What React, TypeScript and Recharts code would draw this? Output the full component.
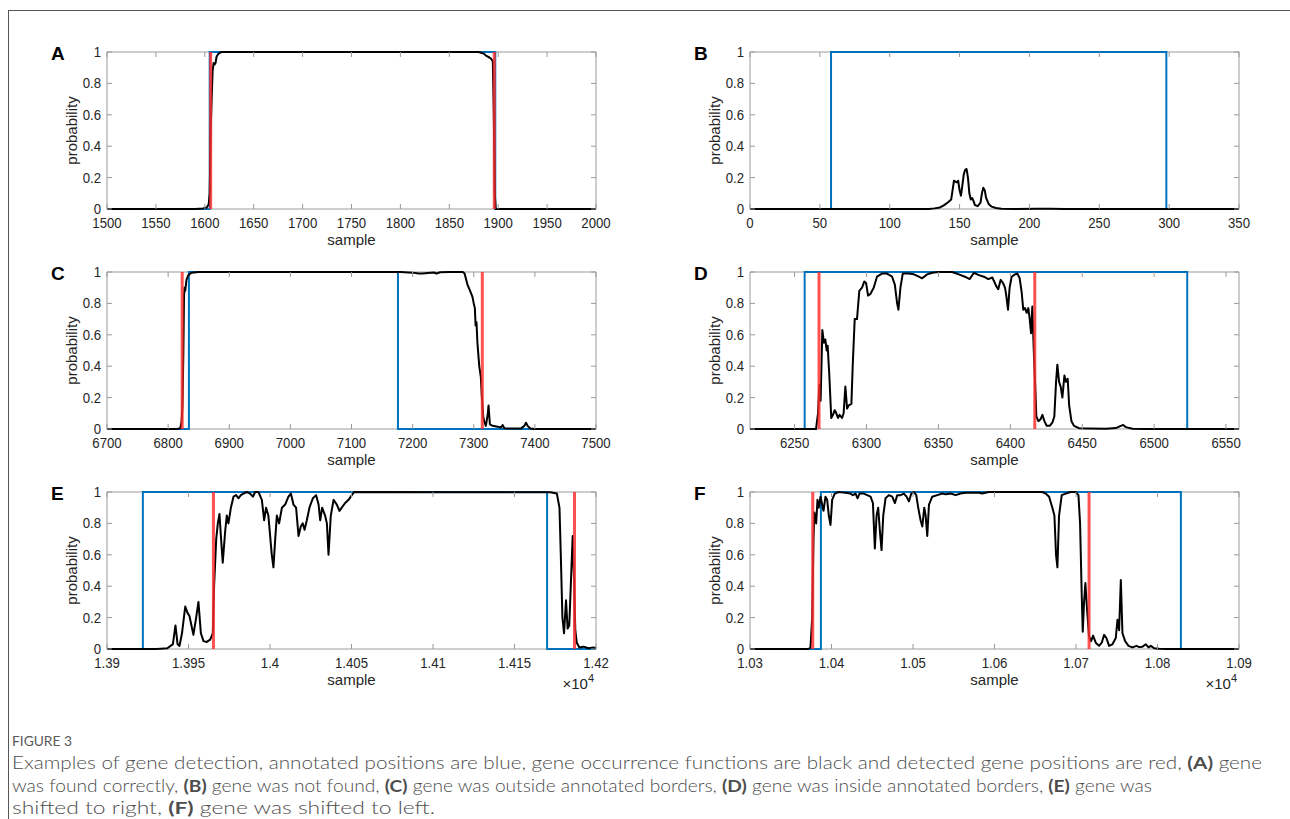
import React from 'react';
import { LineChart, Line, XAxis, YAxis, ReferenceArea } from 'recharts';

type Pt = [number, number];

// ---------- data ----------
const yTicks = [0, 0.2, 0.4, 0.6, 0.8, 1];

// Panel A
const domainA: [number, number] = [1500, 2000];
const ticksA = [1500, 1550, 1600, 1650, 1700, 1750, 1800, 1850, 1900, 1950, 2000];
const annotatedA = [1605, 1897];
const detectedA = [1606, 1896];
const occurrenceA: Pt[] = [
  [1500, 0], [1590, 0], [1598, 0.003], [1602, 0.01], [1604, 0.03], [1605, 0.1], [1606, 0.5], [1607, 0.7],
  [1608, 0.88], [1609, 0.93], [1610, 0.92], [1611, 0.93], [1612, 0.97], [1614, 0.99], [1617, 1], [1880, 1],
  [1885, 0.99], [1888, 0.975], [1891, 0.965], [1893, 0.955], [1894.5, 0.94], [1895.5, 0.6], [1896.5, 0.1],
  [1897.5, 0], [2000, 0],
];

// Panel B
const domainB: [number, number] = [0, 350];
const ticksB = [0, 50, 100, 150, 200, 250, 300, 350];
const annotatedB = [58, 298];
const detectedB: number[] = [];
const occurrenceB: Pt[] = [
  [0, 0], [128, 0], [132, 0.004], [136, 0.01], [139, 0.025], [142, 0.045], [144, 0.06], [145, 0.12],
  [146, 0.18], [147, 0.175], [148, 0.17], [149, 0.18], [150, 0.12], [151, 0.085], [152, 0.15], [153, 0.22],
  [154, 0.25], [155, 0.255], [156, 0.2], [157, 0.1], [158, 0.06], [159, 0.07], [160, 0.05], [161, 0.025],
  [163, 0.018], [165, 0.04], [166, 0.1], [167, 0.135], [168, 0.12], [169, 0.07], [171, 0.03], [173, 0.015],
  [176, 0.006], [180, 0.002], [190, 0], [205, 0.002], [215, 0.002], [225, 0], [350, 0],
];

// Panel C
const domainC: [number, number] = [6700, 7500];
const ticksC = [6700, 6800, 6900, 7000, 7100, 7200, 7300, 7400, 7500];
const annotatedC = [6834, 7176];
const detectedC = [6823, 7314];
const occurrenceC: Pt[] = [
  [6700, 0], [6815, 0], [6820, 0.005], [6822, 0.05], [6823.5, 0.15], [6825, 0.5], [6826, 0.85], [6827, 0.9],
  [6828, 0.88], [6830, 0.95], [6833, 0.98], [6838, 0.995], [6850, 1], [7180, 1], [7200, 0.996], [7210, 0.99],
  [7216, 0.99], [7225, 0.994], [7235, 0.997], [7239, 0.99], [7245, 0.998], [7260, 1], [7282, 1], [7285, 0.99],
  [7289.7, 0.92], [7294, 0.88], [7296, 0.86], [7298, 0.84], [7300, 0.8], [7301.8, 0.77], [7303, 0.66],
  [7304.5, 0.68], [7306, 0.55], [7309, 0.4], [7311.6, 0.33], [7313.3, 0.2], [7315.5, 0.08], [7317, 0.05],
  [7319.8, 0.02], [7321.5, 0.06], [7323, 0.1], [7324.2, 0.15], [7326.4, 0.03], [7330.8, 0.02], [7339, 0.015],
  [7344.5, 0.01], [7347.2, 0.025], [7350, 0.005], [7361, 0.003], [7377, 0.003], [7382.8, 0.02], [7385.5, 0.04],
  [7388.2, 0.02], [7392.6, 0.003], [7399, 0], [7500, 0],
];

// Panel D
const domainD: [number, number] = [6219, 6559];
const ticksD = [6250, 6300, 6350, 6400, 6450, 6500, 6550];
const annotatedD = [6257, 6523];
const detectedD = [6267, 6417];
const occurrenceD: Pt[] = [
  [6219, 0], [6264.9, 0], [6266.3, 0.1], [6267.2, 0.28], [6268.1, 0.18], [6269.3, 0.63], [6270.4, 0.55],
  [6271.4, 0.57], [6272.3, 0.5], [6273, 0.53], [6274.1, 0.35], [6275.5, 0.07], [6276.7, 0.09], [6277.9, 0.12],
  [6279, 0.1], [6280.2, 0.07], [6281.3, 0.09], [6283, 0.07], [6284.1, 0.1], [6285.3, 0.27], [6286.5, 0.13],
  [6287.6, 0.15], [6289.5, 0.16], [6290.4, 0.4], [6291.8, 0.7], [6293.4, 0.7], [6295, 0.88], [6296.9, 0.9],
  [6298.5, 0.94], [6299.7, 0.93], [6301.1, 0.85], [6302.7, 0.86], [6305, 0.9], [6307.3, 0.97], [6310.8, 0.99],
  [6314.3, 0.99], [6317.8, 0.97], [6319.7, 0.92], [6321.3, 0.8], [6322.2, 0.76], [6323.6, 0.9], [6325.2, 0.99],
  [6329.4, 0.99], [6332.9, 0.985], [6336.4, 0.97], [6338.7, 0.96], [6342.2, 0.985], [6345.7, 0.995],
  [6350.3, 1], [6359.6, 1], [6364.2, 0.985], [6368.4, 0.97], [6371.7, 0.955], [6374.7, 0.995], [6378.2, 0.98],
  [6381.6, 0.97], [6384.7, 0.955], [6387.5, 0.965], [6390.2, 0.91], [6391.6, 0.89], [6393.3, 0.95],
  [6394.9, 0.93], [6396.3, 0.9], [6397.2, 0.85], [6398.4, 0.76], [6399.5, 0.9], [6400.9, 0.97], [6403.2, 0.985],
  [6404.9, 0.99], [6406.5, 0.96], [6407.9, 0.87], [6409, 0.76], [6410.2, 0.77], [6411.4, 0.74], [6412.5, 0.77],
  [6413.5, 0.7], [6414.4, 0.61], [6415.3, 0.78], [6416.3, 0.5], [6417.2, 0.3], [6418.1, 0.08], [6419.5, 0.05],
  [6420.9, 0.06], [6422.3, 0.09], [6423.7, 0.05], [6425.3, 0.02], [6427.4, 0.02], [6429.2, 0.04], [6430.6, 0.08],
  [6431.8, 0.3], [6432.7, 0.41], [6433.9, 0.3], [6435, 0.27], [6436.2, 0.2], [6437.6, 0.34], [6438.8, 0.3],
  [6439.9, 0.32], [6440.9, 0.15], [6442.5, 0.05], [6444.3, 0.02], [6447.8, 0.005], [6454.8, 0.003],
  [6466.4, 0.002], [6473.4, 0.006], [6476.8, 0.02], [6478.5, 0.025], [6480.3, 0.012], [6485, 0.002],
  [6494, 0], [6559, 0],
];

// Panel E
const domainE: [number, number] = [13900, 14200];
const ticksE = [13900, 13950, 14000, 14050, 14100, 14150, 14200];
const annotatedE = [13922, 14170];
const detectedE = [13965.3, 14186.8];
const occurrenceE: Pt[] = [
  [13900, 0], [13930, 0], [13933, 0.002], [13937, 0.005], [13939, 0.02], [13940.4, 0.03], [13942, 0.15],
  [13943.3, 0.03], [13944.5, 0.02], [13946, 0.1], [13948, 0.27], [13949.4, 0.23], [13950.6, 0.21], [13952, 0.14],
  [13953, 0.09], [13954.7, 0.2], [13956.1, 0.3], [13957.6, 0.1], [13959.2, 0.05], [13961.2, 0.045],
  [13963.3, 0.06], [13964.9, 0.1], [13965.7, 0.4], [13967, 0.7], [13968, 0.8], [13969, 0.86], [13970, 0.7],
  [13971, 0.55], [13972.5, 0.75], [13973.5, 0.85], [13974.5, 0.8], [13976, 0.9], [13977.6, 0.97],
  [13979.2, 0.98], [13980.7, 0.96], [13982.1, 0.98], [13983.7, 0.99], [13985.8, 1], [13987.8, 0.99],
  [13989.5, 0.97], [13990.9, 1], [13992.9, 1], [13995, 0.95], [13996.4, 0.82], [13997.6, 0.9], [13999, 0.85],
  [14001.1, 0.6], [14002.1, 0.52], [14003.2, 0.7], [14004.2, 0.85], [14005.6, 0.8], [14007.3, 0.9],
  [14009.3, 0.92], [14011.3, 0.97], [14012.8, 0.99], [14014.4, 0.92], [14016, 0.9], [14017.5, 0.72],
  [14018.9, 0.78], [14020.1, 0.8], [14021.2, 0.76], [14022.6, 0.82], [14024.2, 0.9], [14026.3, 0.96],
  [14028.3, 0.98], [14029.8, 0.92], [14030.8, 0.82], [14032, 0.9], [14033.8, 0.85], [14034.9, 0.8],
  [14035.9, 0.6], [14037.3, 0.85], [14039, 0.95], [14041, 0.92], [14042.6, 0.88], [14044, 0.9],
  [14046.1, 0.93], [14048.2, 0.95], [14050.2, 0.98], [14051.6, 1], [14172, 0.998], [14176, 0.99],
  [14177.6, 0.9], [14178.4, 0.6], [14179.4, 0.2], [14180.4, 0.1], [14181.6, 0.31], [14182.6, 0.13],
  [14183.6, 0.15], [14184.7, 0.45], [14185.7, 0.72], [14186.5, 0.45], [14187.3, 0.12], [14188.2, 0.04],
  [14189.8, 0.01], [14192.3, 0.015], [14195.4, 0.005], [14198.5, 0.01], [14200, 0.002],
];

// Panel F
const domainF: [number, number] = [10300, 10900];
const ticksF = [10300, 10400, 10500, 10600, 10700, 10800, 10900];
const annotatedF = [10387, 10828.7];
const detectedF = [10377, 10716];
const occurrenceF: Pt[] = [
  [10300, 0], [10370, 0], [10372.2, 0.002], [10374.2, 0.01], [10376.3, 0.2], [10377.9, 0.7], [10379, 0.87],
  [10381.2, 0.8], [10382.8, 0.95], [10384.4, 0.9], [10386.5, 0.97], [10388.5, 0.92], [10390.2, 0.88],
  [10392.6, 0.97], [10394.7, 0.95], [10396.7, 0.85], [10398.8, 0.79], [10400.8, 0.95], [10404, 0.99],
  [10409, 1], [10417.2, 0.995], [10423.3, 0.99], [10426.2, 0.98], [10429.5, 0.99], [10432, 0.96],
  [10434.4, 0.99], [10439.7, 0.99], [10443.8, 0.98], [10447.9, 0.97], [10450.8, 0.93], [10453.2, 0.64],
  [10455.3, 0.85], [10457.3, 0.9], [10459.4, 0.75], [10461.4, 0.63], [10463.5, 0.85], [10466.3, 0.96],
  [10470.4, 0.98], [10474.5, 0.97], [10477.8, 0.93], [10480.7, 0.98], [10484.7, 0.98], [10488.8, 0.99],
  [10492.1, 0.97], [10495, 0.94], [10497.9, 0.99], [10501.1, 1], [10504, 0.98], [10506.4, 0.9],
  [10509.3, 0.82], [10511.4, 0.78], [10513.8, 0.9], [10515.5, 0.85], [10517.5, 0.72], [10519.6, 0.92],
  [10523.6, 0.97], [10529.8, 0.98], [10535.9, 0.99], [10540, 0.985], [10546.2, 0.99], [10552.3, 0.98],
  [10558.4, 0.99], [10564.5, 0.995], [10581, 0.995], [10585, 0.99], [10593, 1], [10658.8, 1],
  [10662.8, 0.99], [10667, 0.97], [10671, 0.9], [10673.5, 0.85], [10675.5, 0.6], [10677.2, 0.52],
  [10679.2, 0.85], [10682.5, 0.98], [10687.4, 0.99], [10693.5, 1], [10699.7, 1], [10703, 0.98], [10705, 0.8],
  [10707, 0.35], [10708.3, 0.11], [10709.9, 0.3], [10711.5, 0.42], [10713.6, 0.25], [10716, 0.08],
  [10718.5, 0.05], [10721, 0.085], [10724.2, 0.04], [10728.3, 0.02], [10731.6, 0.04], [10734.5, 0.09],
  [10737.3, 0.07], [10740.6, 0.02], [10744.7, 0.03], [10748.8, 0.07], [10750.9, 0.186], [10752.9, 0.12],
  [10755, 0.44], [10757, 0.1], [10760.3, 0.05], [10764.4, 0.02], [10769.3, 0.01], [10774.2, 0.02],
  [10777.5, 0.012], [10781.6, 0.015], [10785.7, 0.03], [10789, 0.01], [10791.8, 0.02], [10795.9, 0.005],
  [10802, 0.001], [10810, 0], [10900, 0],
];

const captionTitle = 'FIGURE 3';

// ---------- styling / layout ----------
const PLOT_W = 489;
const PLOT_H = 157;
const COL_X = [107, 750];
const ROW_Y = [52, 272, 492];
const AXIS = '#9a9a9a';
const TXT = '#262626';
const BLUE = '#0072BD';
const RED = '#ff2b2b';
const FONT = '"Liberation Sans", Arial, Helvetica, sans-serif';
const TICK_LEN = 5;
const SX = 0.88;
const TFS = 15;

const plainFmt = (v: number) => String(v);
const e4Fmt = (v: number) => String(+(v / 1e4).toFixed(4));

const makeXTick = (fmt: (v: number) => string) => (props: any) => {
  const { x, y, payload } = props;
  return (
    <g>
      <line x1={x} x2={x} y1={y} y2={y - TICK_LEN} stroke={AXIS} strokeWidth={1} />
      <line x1={x} x2={x} y1={y - PLOT_H} y2={y - PLOT_H + TICK_LEN} stroke={AXIS} strokeWidth={1} />
      <text
        transform={`translate(${x},${y + 19}) scale(${SX},1)`}
        textAnchor="middle"
        fontSize={TFS}
        fontFamily={FONT}
        fill={TXT}
      >
        {fmt(payload.value)}
      </text>
    </g>
  );
};

const yTick = (props: any) => {
  const { x, y, payload } = props;
  return (
    <g>
      <line x1={x} x2={x + TICK_LEN} y1={y} y2={y} stroke={AXIS} strokeWidth={1} />
      <line x1={x + PLOT_W} x2={x + PLOT_W - TICK_LEN} y1={y} y2={y} stroke={AXIS} strokeWidth={1} />
      <text
        transform={`translate(${x - 6},${y + 5}) scale(${SX},1)`}
        textAnchor="end"
        fontSize={TFS}
        fontFamily={FONT}
        fill={TXT}
      >
        {String(payload.value)}
      </text>
    </g>
  );
};

interface PanelCfg {
  letter: string;
  col: number;
  row: number;
  domain: [number, number];
  ticks: number[];
  fmt: (v: number) => string;
  annotated: number[];
  detected: number[];
  occurrence: Pt[];
  exp: boolean;
}

const panels: PanelCfg[] = [
  { letter: 'A', col: 0, row: 0, domain: domainA, ticks: ticksA, fmt: plainFmt, annotated: annotatedA, detected: detectedA, occurrence: occurrenceA, exp: false },
  { letter: 'B', col: 1, row: 0, domain: domainB, ticks: ticksB, fmt: plainFmt, annotated: annotatedB, detected: detectedB, occurrence: occurrenceB, exp: false },
  { letter: 'C', col: 0, row: 1, domain: domainC, ticks: ticksC, fmt: plainFmt, annotated: annotatedC, detected: detectedC, occurrence: occurrenceC, exp: false },
  { letter: 'D', col: 1, row: 1, domain: domainD, ticks: ticksD, fmt: plainFmt, annotated: annotatedD, detected: detectedD, occurrence: occurrenceD, exp: false },
  { letter: 'E', col: 0, row: 2, domain: domainE, ticks: ticksE, fmt: e4Fmt, annotated: annotatedE, detected: detectedE, occurrence: occurrenceE, exp: true },
  { letter: 'F', col: 1, row: 2, domain: domainF, ticks: ticksF, fmt: e4Fmt, annotated: annotatedF, detected: detectedF, occurrence: occurrenceF, exp: true },
];

const stepSeries = (dom: [number, number], ann: number[]) => [
  { x: dom[0], y: 0 },
  { x: ann[0], y: 0 },
  { x: ann[0], y: 1 },
  { x: ann[1], y: 1 },
  { x: ann[1], y: 0 },
  { x: dom[1], y: 0 },
];

const ML = 60;
const MT = 10;
const MR = 30;
const XH = 45;

function Panel({ cfg }: { cfg: PanelCfg }) {
  const left = COL_X[cfg.col];
  const top = ROW_Y[cfg.row];
  const blue = stepSeries(cfg.domain, cfg.annotated);
  const black = cfg.occurrence.map(([x, y]) => ({ x, y }));
  const reds = cfg.detected.map((p) => [
    { x: p, y: 0 },
    { x: p, y: 1 },
  ]);
  return (
    <div style={{ position: 'absolute', left: left - ML, top: top - MT }}>
      <LineChart
        width={ML + PLOT_W + MR}
        height={MT + PLOT_H + XH}
        margin={{ top: MT, right: MR, bottom: 0, left: 0 }}
      >
        <XAxis
          dataKey="x"
          type="number"
          domain={cfg.domain}
          ticks={cfg.ticks}
          interval={0}
          tickLine={false}
          axisLine={false}
          tickSize={0}
          tickMargin={0}
          height={XH}
          tick={makeXTick(cfg.fmt)}
        />
        <YAxis
          type="number"
          domain={[0, 1]}
          ticks={yTicks}
          interval={0}
          tickLine={false}
          axisLine={false}
          tickSize={0}
          tickMargin={0}
          width={ML}
          tick={yTick}
        />
        <ReferenceArea
          x1={cfg.domain[0]}
          x2={cfg.domain[1]}
          y1={0}
          y2={1}
          fill="none"
          fillOpacity={0}
          stroke={AXIS}
          strokeWidth={1}
          ifOverflow="visible"
        />
        <Line
          name="annotated"
          data={blue}
          dataKey="y"
          type="linear"
          stroke={BLUE}
          strokeWidth={2}
          dot={false}
          activeDot={false}
          isAnimationActive={false}
        />
        <Line
          name="occurrence"
          data={black}
          dataKey="y"
          type="linear"
          stroke="#000"
          strokeWidth={2}
          strokeLinejoin="round"
          dot={false}
          activeDot={false}
          isAnimationActive={false}
        />
        {reds.map((d, i) => (
          <Line
            key={`red${i}`}
            name={`detected${i}`}
            data={d}
            dataKey="y"
            type="linear"
            stroke={RED}
            strokeOpacity={0.82}
            strokeWidth={3}
            dot={false}
            activeDot={false}
            isAnimationActive={false}
          />
        ))}
      </LineChart>
    </div>
  );
}

export default function App() {
  return (
    <div style={{ position: 'absolute', left: 0, top: 0, width: 1290, height: 819, background: '#fff', overflow: 'hidden' }}>
      {panels.map((p) => (
        <Panel key={p.letter} cfg={p} />
      ))}
      <svg
        width={1290}
        height={819}
        style={{ position: 'absolute', left: 0, top: 0, pointerEvents: 'none' }}
      >
        <line x1={8} x2={1290} y1={10.5} y2={10.5} stroke="#555" strokeWidth={1} />
        <line x1={8.5} x2={8.5} y1={10} y2={819} stroke="#555" strokeWidth={1} />
        {panels.map((p) => {
          const L = COL_X[p.col];
          const T = ROW_Y[p.row];
          return (
            <g key={`lab${p.letter}`} fontFamily={FONT} fill={TXT}>
              <text x={L - 56} y={T + 8} fontSize={19} fontWeight="bold" fill="#000">
                {p.letter}
              </text>
              <text
                transform={`translate(${L - 30},${T + PLOT_H / 2}) rotate(-90)`}
                textAnchor="middle"
                fontSize={15}
              >
                probability
              </text>
              <text
                x={L + PLOT_W / 2}
                y={T + PLOT_H + 36}
                textAnchor="middle"
                fontSize={15}
              >
                sample
              </text>
              {p.exp && (
                <text
                  x={L + PLOT_W - 2}
                  y={T + PLOT_H + 40}
                  textAnchor="end"
                  fontSize={15}
                >
                  ×10<tspan fontSize={11} dy={-7}>4</tspan>
                </text>
              )}
            </g>
          );
        })}
        <g fontFamily="Lato, 'Open Sans', sans-serif" fill="#4d4d4d" fontWeight={300}>
          <text x={12} y={746} fontSize={12.5} textLength={60} lengthAdjust="spacingAndGlyphs" fill="#5a5a5a" fontWeight={400}>
            {captionTitle}
          </text>
          <text x={12} y={769} fontSize={17} textLength={1250} lengthAdjust="spacingAndGlyphs">
            Examples of gene detection, annotated positions are blue, gene occurrence functions are black and detected gene positions are red, <tspan fontWeight="bold">(A)</tspan> gene
          </text>
          <text x={12} y={792} fontSize={17} textLength={1140} lengthAdjust="spacingAndGlyphs">
            was found correctly, <tspan fontWeight="bold">(B)</tspan> gene was not found, <tspan fontWeight="bold">(C)</tspan> gene was outside annotated borders, <tspan fontWeight="bold">(D)</tspan> gene was inside annotated borders, <tspan fontWeight="bold">(E)</tspan> gene was
          </text>
          <text x={12} y={814} fontSize={17} textLength={423} lengthAdjust="spacingAndGlyphs">
            shifted to right, <tspan fontWeight="bold">(F)</tspan> gene was shifted to left.
          </text>
        </g>
      </svg>
    </div>
  );
}
